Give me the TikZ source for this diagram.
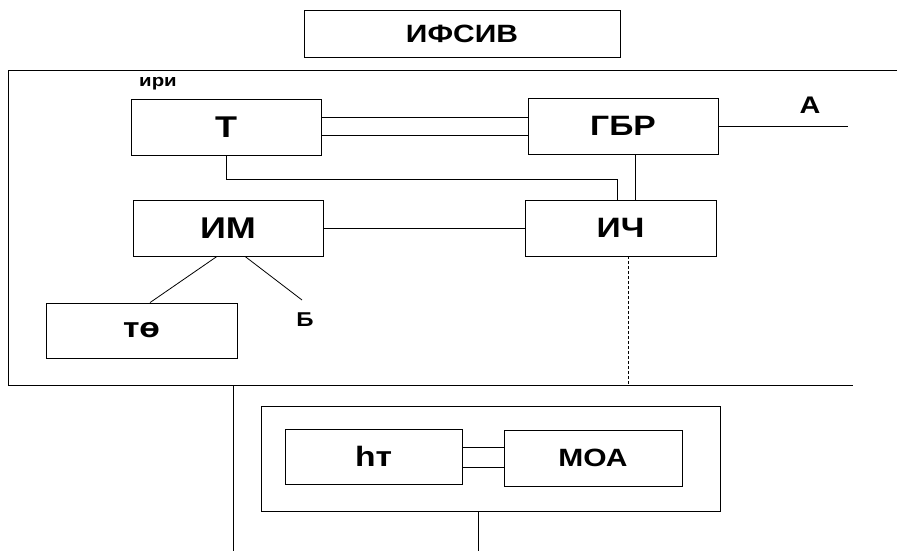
\documentclass[tikz,border=0pt]{standalone}
\usepackage{fontspec}
\newfontfamily\lblfont[FakeStretch=1.2]{Liberation Sans}
\usetikzlibrary{calc}

\begin{document}
\begin{tikzpicture}[
  x=1pt, y=-1pt, line width=0.8pt,
  box/.style={draw, rectangle, inner sep=0pt, font=\lblfont\bfseries\fontsize{28}{28}\selectfont},
  tag/.style={inner sep=0pt, font=\lblfont\bfseries\fontsize{24}{24}\selectfont},
]
  \useasboundingbox (0,0) rectangle (901,551);

  \coordinate (ftr) at (897,70);
  \coordinate (ftl) at (8,70);
  \coordinate (fbl) at (8,385);
  \coordinate (fbr) at (853,385);
  \coordinate (bend) at (617,179);
  \coordinate (aend) at (848,126);
  \coordinate (bend2) at (302,300);
  \coordinate (leftbot) at (233,551);

  \node[box, minimum width=316, minimum height=47, font=\lblfont\bfseries\fontsize{25}{25}\selectfont] (title) at (462,33.5) {ИФСИВ};

  \node[box, minimum width=190, minimum height=56, font=\lblfont\bfseries\fontsize{30}{30}\selectfont] (T) at (226,127) {Т};
  \node[box, minimum width=190, minimum height=56] (GBR) at (623,126) {ГБР};
  \node[box, minimum width=190, minimum height=56, font=\lblfont\bfseries\fontsize{30}{30}\selectfont] (IM) at (228,228) {ИМ};
  \node[box, minimum width=191, minimum height=56] (ICh) at (620.5,228) {ИЧ};
  \node[box, minimum width=191, minimum height=55] (Te)  at (141.5,330.5) {тө};

  \node[draw, rectangle, minimum width=459, minimum height=105] (grp) at (490.5,458.5) {};
  \node[box, minimum width=177, minimum height=55] (hT)  at (373.5,456.5) {hт};
  \node[box, minimum width=178, minimum height=56, font=\lblfont\bfseries\fontsize{25}{25}\selectfont] (MOA) at (593,458) {МОА};

  \node[tag, font=\lblfont\bfseries\fontsize{17}{17}\selectfont] (iri) at (158,84) {ири};
  \node[tag] (A) at (810,105) {А};
  \node[tag, font=\lblfont\bfseries\fontsize{20}{20}\selectfont] (B) at (305,320) {Б};

  \draw (ftr) -- (ftl) -- (fbl) -- (fbr);
  \draw (fbl -| leftbot) -- (leftbot);

  \draw ([yshift=10pt]T.east) -- ([yshift=10pt]T.east -| GBR.west);
  \draw ([yshift=-8pt]T.east) -- ([yshift=-8pt]T.east -| GBR.west);
  \draw (GBR.east) -- (aend);
  \draw (T.south) |- (bend) -- (bend |- ICh.north);
  \draw ([xshift=12pt]GBR.south) -- ([xshift=12pt]GBR.south |- ICh.north);
  \draw (IM.east) -- (ICh.west);
  \draw ([xshift=-11pt]IM.south) -- ([xshift=8.5pt]Te.north);
  \draw ([xshift=17pt]IM.south) -- (bend2);
  \draw[densely dashed] ([xshift=7.5pt]ICh.south) -- ([xshift=7.5pt]ICh.south |- fbl);

  \draw ([yshift=9.5pt]hT.east) -- ([yshift=9.5pt]hT.east -| MOA.west);
  \draw ([yshift=-10.5pt]hT.east) -- ([yshift=-10.5pt]hT.east -| MOA.west);
  \draw ([xshift=-12.5pt]grp.south) -- ([xshift=-12.5pt]grp.south |- leftbot);
\end{tikzpicture}
\end{document}
